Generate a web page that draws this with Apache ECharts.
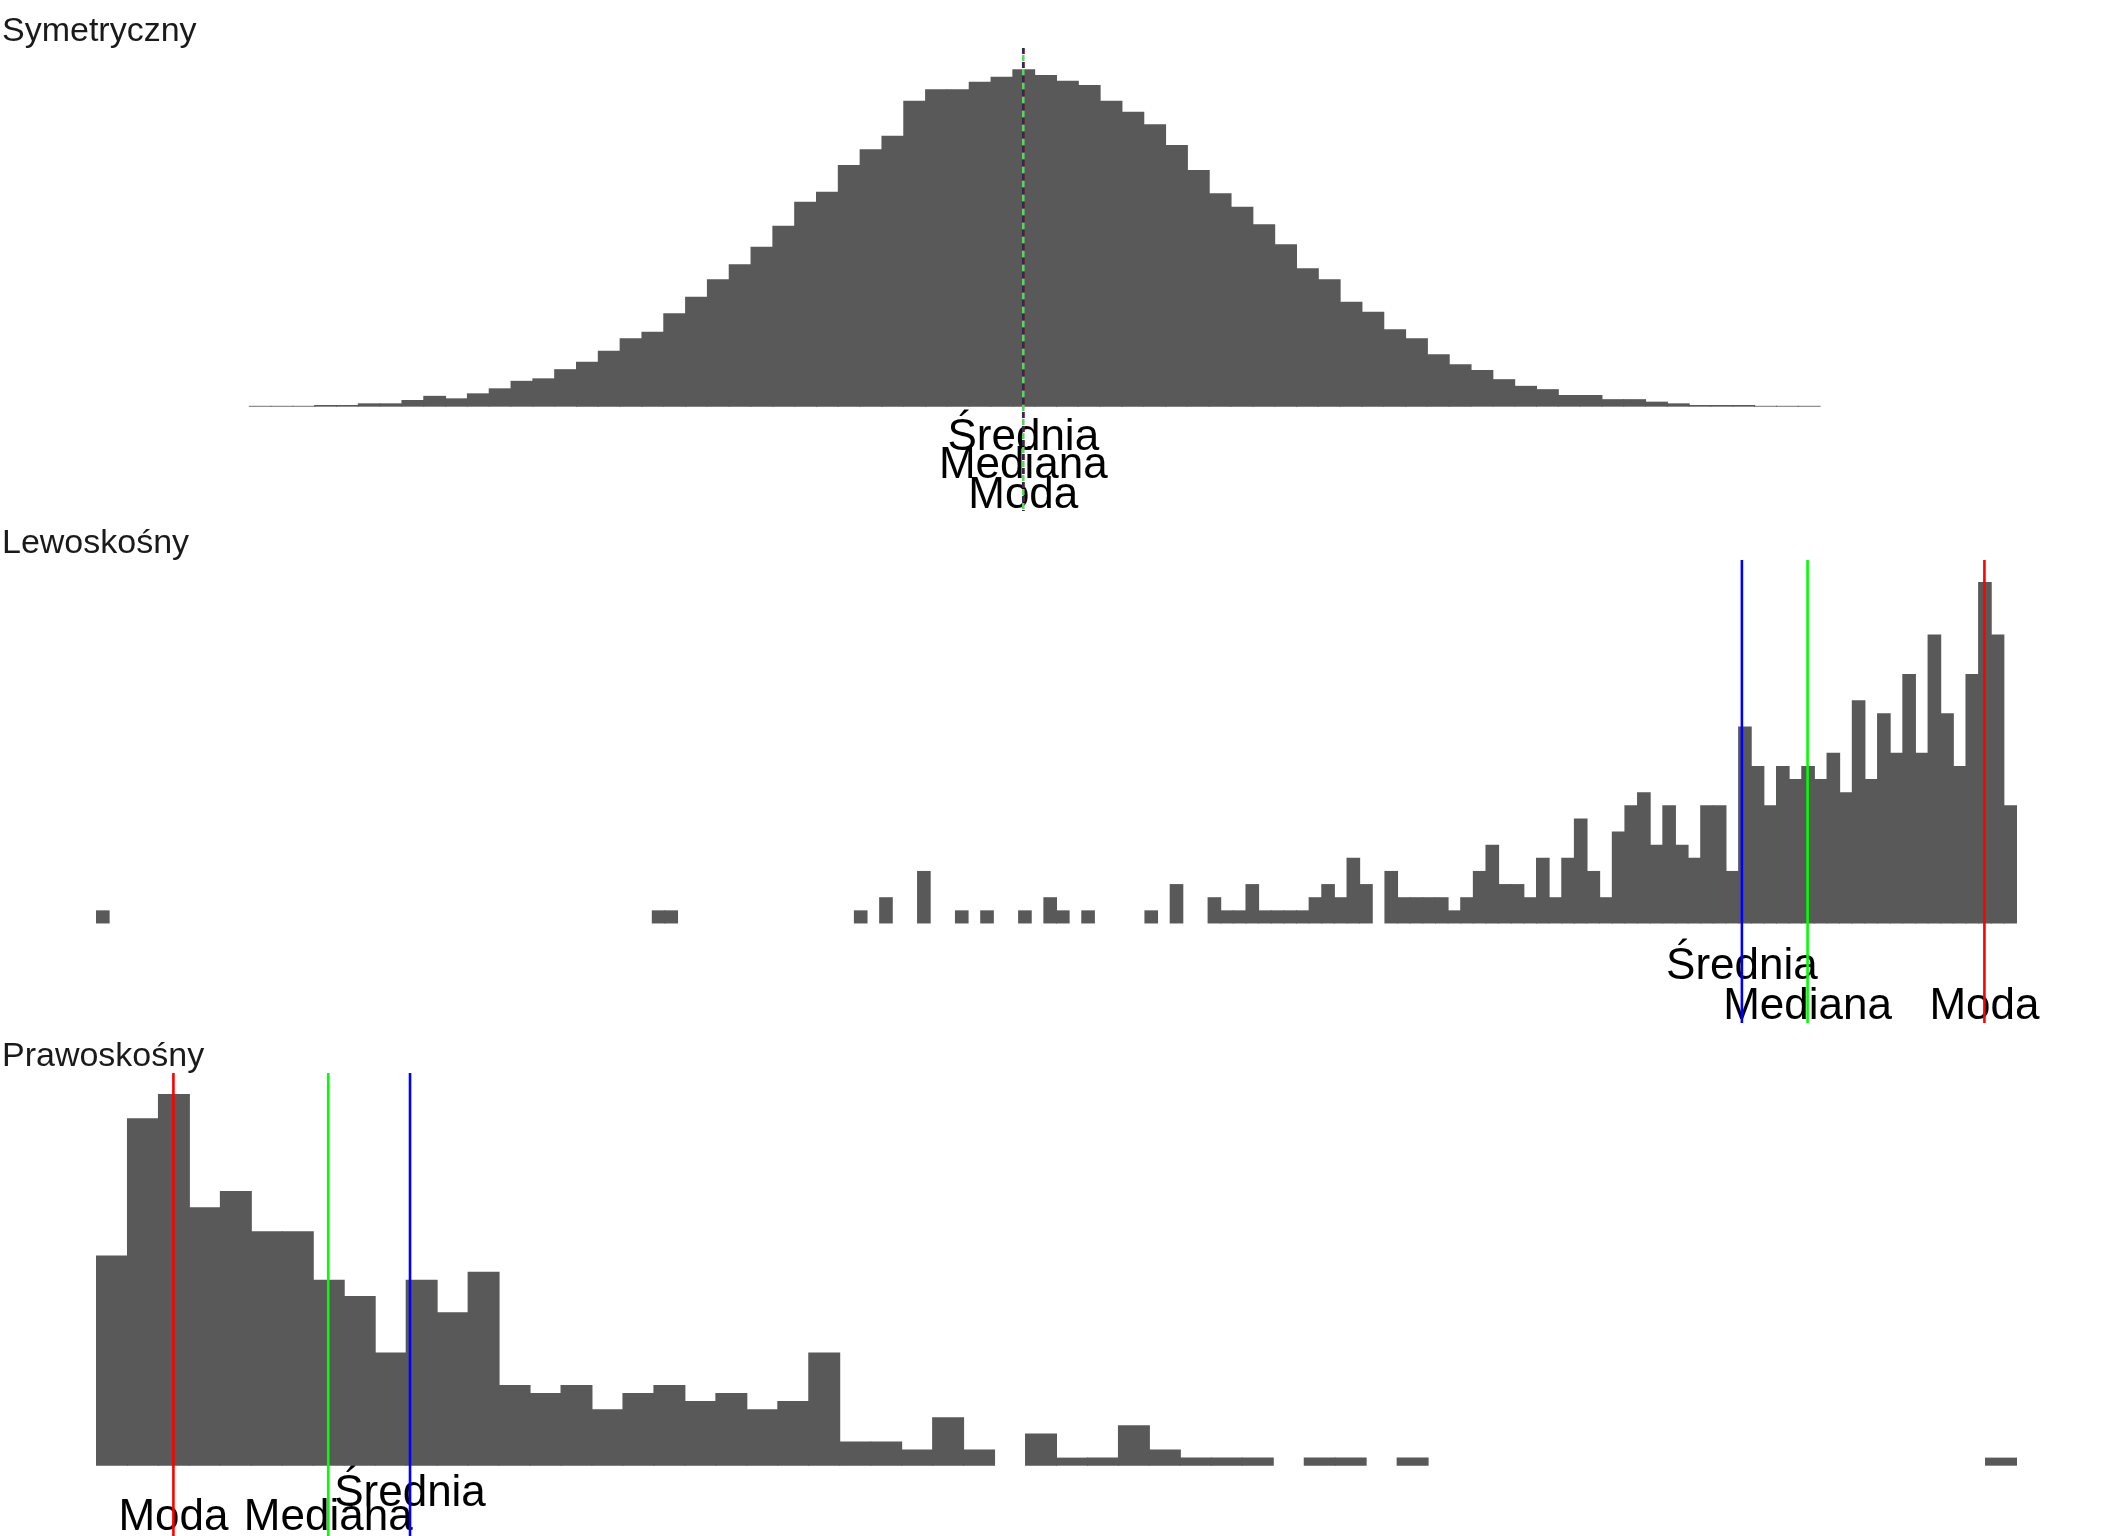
<!DOCTYPE html>
<html lang="pl">
  <head>
    <meta charset="UTF-8" />
    <title>Rozkłady</title>
    <script src="https://cdn.jsdelivr.net/npm/echarts@6/dist/echarts.min.js"></script>
    <style>
      body {
        margin: 0;
        padding: 0;
        background: #fff;
      }

      #main {
        width: 2112px;
        height: 1536px;
      }
    </style>
  </head>

  <body>
    <div id="main"></div>
    <script>
      const panelNames = ["Symetryczny", "Lewoskośny", "Prawoskośny"];
      const statNames = ["Średnia", "Mediana", "Moda"];

      // symetryczny: 72 przedziały od -3.6, szerokość 0.1
      const symStart = -3.6;
      const symWidth = 0.1;
      const symCounts = [
        1, 1, 1, 2, 2, 4, 4, 8, 13, 10,
        16, 22, 31, 34, 45, 54, 67, 82, 90, 112,
        132, 153, 171, 192, 217, 246, 258, 290, 309, 325,
        367, 381, 381, 390, 396, 405, 398, 391, 386, 367,
        354, 339, 314, 284, 256, 240, 219, 195, 166, 153,
        126, 114, 93, 82, 63, 51, 44, 33, 25, 21,
        14, 14, 9, 9, 6, 4, 2, 2, 2, 1,
        1, 1,
      ];
      const symStats = [-0.05, -0.05, -0.05]; // średnia, mediana, moda
      const symLabelY = [-37, -71, -107];

      // lewoskośny: 152 przedziały od 0, szerokość 1
      const leftStart = 0;
      const leftWidth = 1;
      const leftCounts = [
        1, 0, 0, 0, 0, 0, 0, 0, 0, 0,
        0, 0, 0, 0, 0, 0, 0, 0, 0, 0,
        0, 0, 0, 0, 0, 0, 0, 0, 0, 0,
        0, 0, 0, 0, 0, 0, 0, 0, 0, 0,
        0, 0, 0, 0, 1, 1, 0, 0, 0, 0,
        0, 0, 0, 0, 0, 0, 0, 0, 0, 0,
        1, 0, 2, 0, 0, 4, 0, 0, 1, 0,
        1, 0, 0, 1, 0, 2, 1, 0, 1, 0,
        0, 0, 0, 1, 0, 3, 0, 0, 2, 1,
        1, 3, 1, 1, 1, 1, 2, 3, 2, 5,
        3, 0, 4, 2, 2, 2, 2, 1, 2, 4,
        6, 3, 3, 2, 5, 2, 5, 8, 4, 2,
        7, 9, 10, 6, 9, 6, 5, 9, 9, 4,
        15, 12, 9, 12, 11, 12, 11, 13, 10, 17,
        11, 16, 13, 19, 13, 22, 16, 12, 19, 26,
        22, 9,
      ];
      const leftStats = [130.3, 135.5, 149.5];
      const leftLabelY = [-3.3, -6.35, -6.35];

      // prawoskośny: 62 przedziały od 0, szerokość 1
      const rightStart = 0;
      const rightWidth = 1;
      const rightCounts = [
        26, 43, 46, 32, 34, 29, 29, 23, 21, 14,
        23, 19, 24, 10, 9, 10, 7, 9, 10, 8,
        9, 7, 8, 14, 3, 3, 2, 6, 2, 0,
        4, 1, 1, 5, 2, 1, 1, 1, 0, 1,
        1, 0, 1, 0, 0, 0, 0, 0, 0, 0,
        0, 0, 0, 0, 0, 0, 0, 0, 0, 0,
        0, 1,
      ];
      const rightStats = [10.14, 7.5, 2.5];
      const rightLabelY = [-3.5, -6.5, -6.5];

      const FONT = '"Liberation Sans", Arial, Helvetica, sans-serif';
      const BAR = "#595959";
      const PANEL_H = 463;

      const binsOf = (start, width, counts) =>
        counts.map((c, i) => [start + i * width, start + (i + 1) * width, c]);

      const panels = [
        {
          name: panelNames[0],
          bins: binsOf(symStart, symWidth, symCounts),
          stats: symStats,
          labelY: symLabelY,
          x: [-4.74, 4.94],
          y: [-125.2, 430.4],
          top: 48,
          // linie nakładają się, więc są przerywane
          lines: [
            { color: "#ff0000", dash: [6, 8], offset: 0 },
            { color: "#27304d", dash: [6, 8], offset: 0 },
            { color: "#5fd35f", dash: [6, 8], offset: 7 },
          ],
        },
        {
          name: panelNames[1],
          bins: binsOf(leftStart, leftWidth, leftCounts),
          stats: leftStats,
          labelY: leftLabelY,
          x: [-7.6, 159.6],
          y: [-7.58, 27.68],
          top: 560,
        },
        {
          name: panelNames[2],
          bins: binsOf(rightStart, rightWidth, rightCounts),
          stats: rightStats,
          labelY: rightLabelY,
          x: [-3.1, 65.1],
          y: [-8.7, 48.6],
          top: 1073,
        },
      ];

      // kolory: średnia, mediana, moda
      const solidLines = [
        { color: "#0000ff" },
        { color: "#00ff00" },
        { color: "#ff0000" },
      ];

      const chartDom = document.getElementById("main");
      const myChart = echarts.init(chartDom);

      const series = [];
      panels.forEach((p, k) => {
        series.push({
          type: "custom",
          xAxisIndex: k,
          yAxisIndex: k,
          silent: true,
          data: p.bins,
          renderItem: (params, api) => {
            const c = api.value(2);
            if (!c) return null;
            const a = api.coord([api.value(0), c]);
            const b = api.coord([api.value(1), 0]);
            return {
              type: "rect",
              shape: { x: a[0], y: a[1], width: b[0] - a[0] + 1, height: b[1] - a[1] },
              style: { fill: BAR },
            };
          },
        });
        series.push({
          type: "custom",
          xAxisIndex: k,
          yAxisIndex: k,
          silent: true,
          z: 3,
          data: p.stats.map((v, i) => [v, p.labelY[i], i]),
          renderItem: (params, api) => {
            const pt = api.coord([api.value(0), api.value(1)]);
            return {
              type: "text",
              x: pt[0],
              y: pt[1],
              style: {
                text: statNames[api.value(2)],
                fill: "#000",
                fontSize: 44,
                fontFamily: FONT,
                align: "center",
                verticalAlign: "middle",
              },
            };
          },
        });
        // kolejność rysowania: moda, średnia, mediana
        const order = [2, 0, 1];
        series.push({
          type: "custom",
          xAxisIndex: k,
          yAxisIndex: k,
          silent: true,
          z: 4,
          data: order.map((i) => [p.stats[i], 0, i]),
          renderItem: (params, api) => {
            const cs = params.coordSys;
            const x = api.coord([api.value(0), 0])[0];
            const i = api.value(2);
            const st = p.lines
              ? p.lines[order.indexOf(i)]
              : solidLines[i];
            return {
              type: "line",
              shape: { x1: x, y1: cs.y, x2: x, y2: cs.y + cs.height },
              style: {
                stroke: st.color,
                lineWidth: 2.6,
                lineDash: st.dash || null,
                lineDashOffset: st.offset || 0,
              },
            };
          },
        });
      });

      const option = {
        animation: false,
        backgroundColor: "#fff",
        title: panels.map((p) => ({
          text: p.name,
          left: 2,
          top: p.top - 33,
          padding: 0,
          textStyle: {
            fontSize: 34,
            fontWeight: "normal",
            color: "#1a1a1a",
            fontFamily: FONT,
          },
        })),
        grid: panels.map((p) => ({
          left: 0,
          right: 0,
          top: p.top,
          height: PANEL_H,
          containLabel: false,
        })),
        xAxis: panels.map((p, k) => ({
          type: "value",
          gridIndex: k,
          min: p.x[0],
          max: p.x[1],
          show: false,
        })),
        yAxis: panels.map((p, k) => ({
          type: "value",
          gridIndex: k,
          min: p.y[0],
          max: p.y[1],
          show: false,
        })),
        series: series,
      };

      myChart.setOption(option);
    </script>
  </body>
</html>
